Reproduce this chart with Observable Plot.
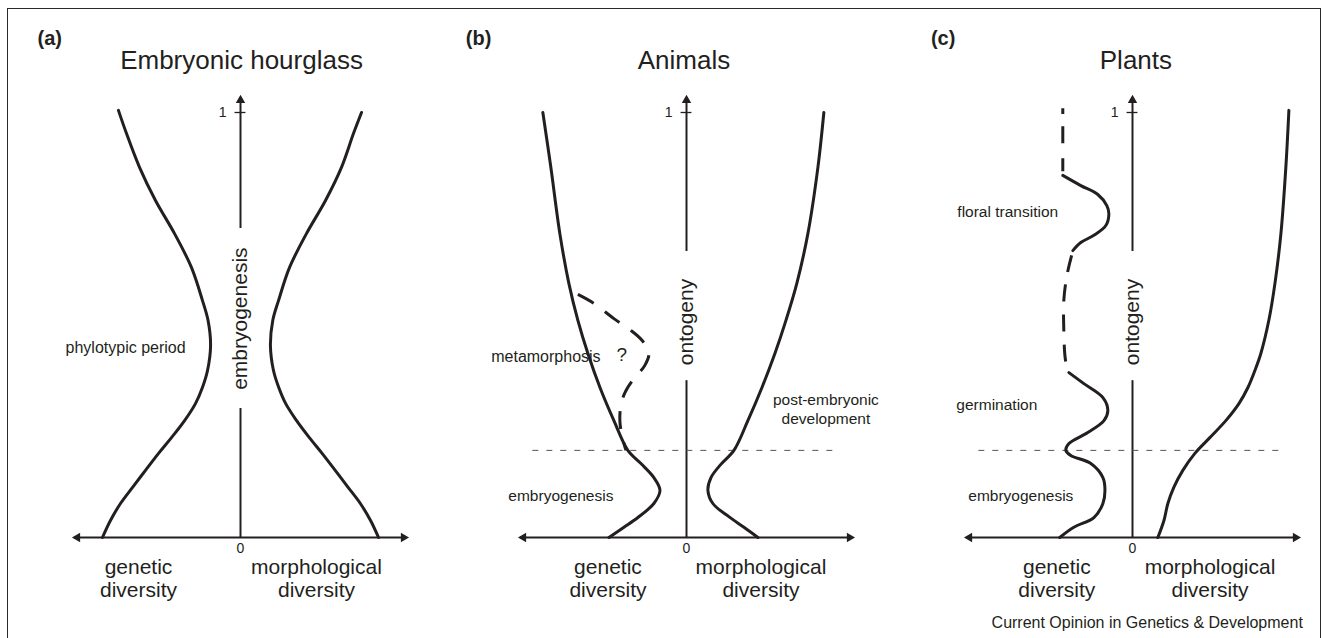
<!DOCTYPE html>
<html>
<head>
<meta charset="utf-8">
<script src="https://cdn.jsdelivr.net/npm/d3@7"></script>
<script src="https://cdn.jsdelivr.net/npm/@observablehq/plot@0.6"></script>
<style>
  html, body { margin: 0; padding: 0; background: #fff; width: 1321px; height: 638px; overflow: hidden; position: relative; }
  #frame { position: absolute; left: 7px; top: 8px; width: 1314px; height: 700px; border: 1.5px solid #2a2a2a; box-sizing: border-box; }
  .panel { position: absolute; top: 0; width: 446px; height: 638px; }
  .panel svg { max-width: none !important; display: block; }
</style>
</head>
<body>
<div id="frame"></div>
<div id="pa" class="panel"></div>
<div id="pb" class="panel"></div>
<div id="pc" class="panel"></div>
<script>
// ---------------- data (x: diversity, negative = genetic, positive = morphological; y: ontogeny 0..1) ----------------
const tickValues = [0, 1];
const tickLabels = ["0", "1"];
const leftAxisName = "genetic\ndiversity";
const rightAxisName = "morphological\ndiversity";

// Panel (a) Embryonic hourglass
const aLetter = "(a)";
const aTitle = "Embryonic hourglass";
const aAxisLabel = "embryogenesis";
const aGeneticX = [-0.718, -0.671, -0.594, -0.500, -0.388, -0.288, -0.224, -0.191, -0.176, -0.194, -0.224, -0.265, -0.329, -0.406, -0.482, -0.559, -0.635, -0.706, -0.765, -0.812];
const aGeneticY = [1.005, 0.951, 0.871, 0.793, 0.715, 0.635, 0.558, 0.511, 0.452, 0.393, 0.353, 0.315, 0.275, 0.235, 0.198, 0.158, 0.118, 0.080, 0.040, 0.000];
const aMorphX = [0.712, 0.665, 0.594, 0.500, 0.388, 0.288, 0.224, 0.190, 0.176, 0.194, 0.225, 0.266, 0.330, 0.405, 0.480, 0.557, 0.633, 0.705, 0.765, 0.812];
const aMorphY = [1.000, 0.951, 0.871, 0.793, 0.715, 0.635, 0.558, 0.511, 0.452, 0.393, 0.353, 0.315, 0.275, 0.235, 0.198, 0.158, 0.118, 0.080, 0.040, 0.000];
const aNotes = ["phylotypic period"];
const aNotesX = [-0.676];
const aNotesY = [0.449];

// Panel (b) Animals
const bLetter = "(b)";
const bTitle = "Animals";
const bAxisLabel = "ontogeny";
const bGeneticX = [-0.845, -0.798, -0.745, -0.692, -0.639, -0.580, -0.509, -0.427, -0.345, -0.268, -0.192, -0.156, -0.192, -0.286, -0.368, -0.456];
const bGeneticY = [1.000, 0.871, 0.715, 0.598, 0.511, 0.433, 0.353, 0.275, 0.205, 0.174, 0.141, 0.111, 0.080, 0.047, 0.024, 0.000];
const bMetaX = [-0.639, -0.545, -0.427, -0.333, -0.262, -0.221, -0.245, -0.309, -0.362, -0.386, -0.392, -0.380, -0.356];
const bMetaY = [0.572, 0.551, 0.515, 0.489, 0.464, 0.435, 0.405, 0.374, 0.341, 0.311, 0.275, 0.240, 0.205];
const bMorphX = [0.808, 0.773, 0.714, 0.649, 0.585, 0.520, 0.444, 0.361, 0.279, 0.202, 0.144, 0.126, 0.155, 0.249, 0.338, 0.420];
const bMorphY = [1.000, 0.871, 0.715, 0.598, 0.511, 0.433, 0.353, 0.275, 0.205, 0.172, 0.141, 0.111, 0.080, 0.049, 0.024, 0.000];
const bStage = 0.205;
const bNotes = ["metamorphosis", "?", "post-embryonic\ndevelopment", "embryogenesis"];
const bNotesX = [-0.827, -0.380, 0.820, -0.739];
const bNotesY = [0.428, 0.433, 0.304, 0.099];

// Panel (c) Plants
const cLetter = "(c)";
const cTitle = "Plants";
const cAxisLabel = "ontogeny";
const cGenTopDashX = [-0.410, -0.410, -0.410];
const cGenTopDashY = [1.010, 0.930, 0.859];
const cGenFloralX = [-0.410, -0.304, -0.204, -0.151, -0.139, -0.157, -0.227, -0.304, -0.351];
const cGenFloralY = [0.852, 0.828, 0.807, 0.781, 0.762, 0.734, 0.711, 0.694, 0.675];
const cGenMidDashX = [-0.358, -0.386, -0.404, -0.404, -0.398, -0.386];
const cGenMidDashY = [0.664, 0.616, 0.558, 0.487, 0.430, 0.396];
const cGenEarlyX = [-0.374, -0.286, -0.174, -0.145, -0.168, -0.263, -0.374, -0.392, -0.363, -0.245, -0.174, -0.162, -0.174, -0.227, -0.345, -0.428];
const cGenEarlyY = [0.388, 0.362, 0.329, 0.299, 0.275, 0.247, 0.221, 0.205, 0.193, 0.174, 0.141, 0.111, 0.080, 0.047, 0.024, 0.000];
const cMorphX = [0.920, 0.902, 0.873, 0.838, 0.802, 0.755, 0.720, 0.679, 0.626, 0.549, 0.455, 0.367, 0.296, 0.243, 0.208, 0.185, 0.149];
const cMorphY = [1.005, 0.871, 0.715, 0.598, 0.511, 0.433, 0.393, 0.353, 0.315, 0.275, 0.235, 0.198, 0.158, 0.118, 0.080, 0.040, 0.000];
const cStage = 0.205;
const cNotes = ["floral transition", "germination", "embryogenesis"];
const cNotesX = [-0.734, -0.798, -0.657];
const cNotesY = [0.769, 0.313, 0.099];
const caption = "Current Opinion in Genetics & Development";

// ---------------- drawing ----------------
const INK = "#231f20";
const FONT = "'Liberation Sans', Arial, Helvetica, sans-serif";
const W = 446, H = 638, HALF = 223, SPAN = 170;
const Y0 = 537, Y1 = 112;

function pts(xs, ys) { return xs.map((x, i) => ({x, y: ys[i]})); }
function notes(t, xs, ys) { return t.map((s, i) => ({text: s, x: xs[i], y: ys[i]})); }

function panel(cfg) {
  const marks = [];
  // axes
  marks.push(Plot.ruleY([0], {x1: -0.975, x2: 0.975, stroke: INK, strokeWidth: 2.2}));
  marks.push(Plot.ruleX([0], {y1: 0, y2: cfg.gap[0], stroke: INK, strokeWidth: 2}));
  marks.push(Plot.ruleX([0], {y1: cfg.gap[1], y2: 1.03, stroke: INK, strokeWidth: 2}));
  marks.push(Plot.ruleY([1], {x1: -0.032, x2: 0.032, stroke: INK, strokeWidth: 1.3}));
  marks.push(Plot.dot([{x: 0, y: 1.045}], {x: "x", y: "y", symbol: "triangle2", r: 4.5, fill: INK, stroke: "none", dy: 6.9}));
  marks.push(Plot.dot([{x: 1, y: 0}], {x: "x", y: "y", symbol: "triangle2", r: 4.5, fill: INK, stroke: "none", rotate: 90, dx: -6.9}));
  marks.push(Plot.dot([{x: -1, y: 0}], {x: "x", y: "y", symbol: "triangle2", r: 4.5, fill: INK, stroke: "none", rotate: -90, dx: 6.9}));
  // tick labels
  marks.push(Plot.text([tickLabels[1]], {x: 0, y: tickValues[1], text: d => d, textAnchor: "end", dx: -14, fontSize: 14, fill: INK}));
  marks.push(Plot.text([tickLabels[0]], {x: 0, y: tickValues[0], text: d => d, dy: 11, fontSize: 14, fill: INK}));
  // stage boundary
  if (cfg.stage != null) {
    marks.push(Plot.ruleY([cfg.stage], {x1: -0.904, x2: 0.89, stroke: "#555", strokeWidth: 1, strokeDasharray: "6,8"}));
  }
  // curves
  for (const c of cfg.curves) {
    marks.push(Plot.line(c.data, {x: "x", y: "y", curve: "catmull-rom", stroke: INK, strokeWidth: 3,
      strokeDasharray: c.dash ? c.dash : undefined, strokeLinecap: c.dash ? "butt" : "round"}));
  }
  // rotated axis label
  marks.push(Plot.text([cfg.axisLabel], {x: 0, y: cfg.axisLabelY, text: d => d, rotate: -90, fontSize: 21, fill: INK}));
  // diversity labels
  marks.push(Plot.text([leftAxisName], {x: cfg.genX, y: -0.095, text: d => d, fontSize: 21, lineHeight: 1.1, lineAnchor: "middle", fill: INK}));
  marks.push(Plot.text([rightAxisName], {x: cfg.morX, y: -0.095, text: d => d, fontSize: 21, lineHeight: 1.1, lineAnchor: "middle", fill: INK}));
  // title and letter
  marks.push(Plot.text([cfg.title], {x: cfg.titleX, y: 1.122, text: d => d, fontSize: 26, fill: INK}));
  marks.push(Plot.text([cfg.letter], {x: cfg.letterX, y: 1.174, text: d => d, fontSize: 20, fontWeight: "bold", textAnchor: "start", fill: INK}));
  // annotations
  for (const n of cfg.notes) {
    marks.push(Plot.text([n], {x: "x", y: "y", text: "text", fontSize: n.size, lineHeight: 1.2, lineAnchor: "middle", fill: INK}));
  }
  if (cfg.caption) {
    marks.push(Plot.text([cfg.caption], {x: 1.002, y: -0.2, text: d => d, fontSize: 16, textAnchor: "end", fill: INK}));
  }
  const svg = Plot.plot({
    width: W, height: H,
    x: {domain: [-1, 1], range: [HALF - SPAN, HALF + SPAN], axis: null},
    y: {domain: [0, 1], range: [Y0, Y1], axis: null},
    style: {fontFamily: FONT, color: INK, background: "transparent", overflow: "visible", maxWidth: "none"},
    marks
  });
  const host = document.querySelector(cfg.el);
  host.style.left = (cfg.center - HALF) + "px";
  host.appendChild(svg);
}

const aNoteRows = notes(aNotes, aNotesX, aNotesY).map(d => ({...d, size: 16}));
const bNoteRows = notes(bNotes, bNotesX, bNotesY).map(d => ({...d, size: d.text === "?" ? 19 : d.text === "metamorphosis" ? 16 : 15.5}));
const cNoteRows = notes(cNotes, cNotesX, cNotesY).map(d => ({...d, size: 15.5}));

panel({
  el: "#pa", center: 240, letter: aLetter, letterX: -1.194, title: aTitle, titleX: 0.006,
  axisLabel: aAxisLabel, axisLabelY: 0.515, gap: [0.3035, 0.727], stage: null,
  genX: -0.6, morX: 0.447,
  curves: [{data: pts(aGeneticX, aGeneticY)}, {data: pts(aMorphX, aMorphY)}],
  notes: aNoteRows
});
panel({
  el: "#pb", center: 685.6, letter: bLetter, letterX: -1.298, title: bTitle, titleX: -0.015,
  axisLabel: bAxisLabel, axisLabelY: 0.507, gap: [0.369, 0.673], stage: bStage,
  genX: -0.462, morX: 0.438,
  curves: [{data: pts(bGeneticX, bGeneticY)}, {data: pts(bMorphX, bMorphY)}, {data: pts(bMetaX, bMetaY), dash: "18,14"}],
  notes: bNoteRows
});
panel({
  el: "#pc", center: 1131.7, letter: cLetter, letterX: -1.186, title: cTitle, titleX: 0.02,
  axisLabel: cAxisLabel, axisLabelY: 0.507, gap: [0.369, 0.673], stage: cStage,
  genX: -0.445, morX: 0.456,
  curves: [
    {data: pts(cGenTopDashX, cGenTopDashY), dash: "6,12,17,15,13,40"},
    {data: pts(cGenFloralX, cGenFloralY)},
    {data: pts(cGenMidDashX, cGenMidDashY), dash: "17,13"},
    {data: pts(cGenEarlyX, cGenEarlyY)},
    {data: pts(cMorphX, cMorphY)}
  ],
  notes: cNoteRows,
  caption
});
</script>
</body>
</html>
